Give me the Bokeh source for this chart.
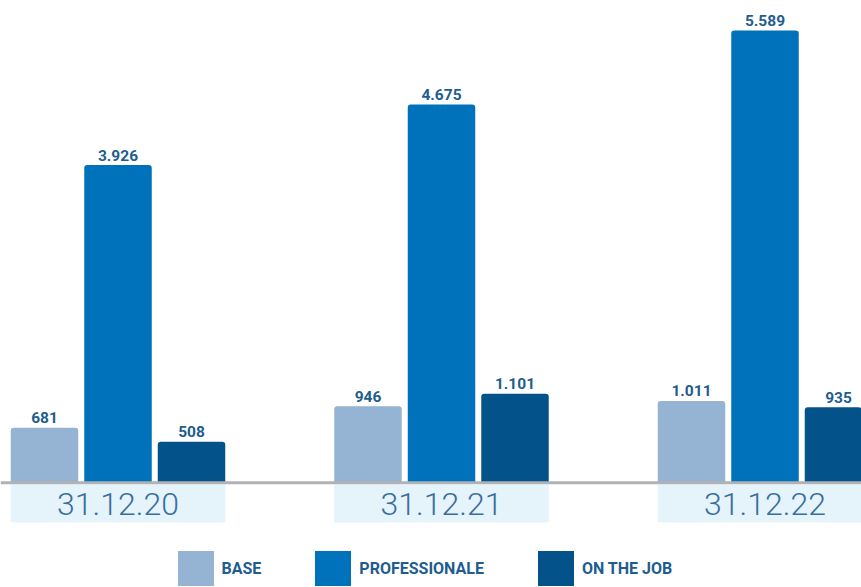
from bokeh.plotting import figure
from bokeh.models import ColumnDataSource, Range1d, Span, Legend, LegendItem
from bokeh.transform import dodge
from bokeh.core.properties import value
from bokeh.embed import file_html
from bokeh.resources import INLINE

# ---- data ----
dates = ["31.12.20", "31.12.21", "31.12.22"]
series = ["BASE", "PROFESSIONALE", "ON THE JOB"]
base = [681, 946, 1011]
professionale = [3926, 4675, 5589]
on_the_job = [508, 1101, 935]

colors = ["#95b3d2", "#0071bb", "#03538a"]
label_color = "#1e5d8e"

def fmt(v):
    return f"{v:,}".replace(",", ".")

W, H = 861, 587
unit_px = 323.5          # px per group
base_px = 482.3          # baseline from top of figure (px)
k = max(professionale) / 452.3   # value units per px
x_start = (0 - 117.5) / unit_px

p = figure(width=W, height=H, output_backend="svg", toolbar_location=None,
           x_range=Range1d(x_start, x_start + W / unit_px),
           y_range=Range1d(-(H - base_px) * k, base_px * k),
           min_border=0, outline_line_color=None)
p.axis.visible = False
p.grid.visible = False
p.background_fill_color = "white"

idx = list(range(len(dates)))
src = ColumnDataSource(dict(
    x=idx, date=dates,
    base=base, prof=professionale, otj=on_the_job,
    base_l=[fmt(v) for v in base],
    prof_l=[fmt(v) for v in professionale],
    otj_l=[fmt(v) for v in on_the_job],
))

bw = 67.5 / unit_px
step = 73.5 / unit_px
box_half = (bw / 2 + step)

# category boxes
p.quad(left=[i - box_half for i in idx], right=[i + box_half for i in idx],
       top=-1.7 * k, bottom=-39.4 * k, fill_color="#e5f3fb", line_color=None)
p.text(x="x", y=-21.5 * k, text="date", source=src, text_align="center",
       text_baseline="middle", text_font=value("Roboto Light"),
       text_font_size="32px", text_color="#3a6f9c")

renderers = []
for off, col, key, c in zip([-step, 0, step], ["base", "prof", "otj"],
                            [series[0], series[1], series[2]], colors):
    r = p.vbar(x=dodge("x", off, range=p.x_range), top=col, bottom=0, width=bw,
               source=src, fill_color=c, line_color=None,
               border_radius=[3, 3, 0, 0])
    renderers.append((key, r))
    p.text(x=dodge("x", off, range=p.x_range), y=col, text=col + "_l",
           source=src, text_align="center", text_baseline="alphabetic",
           y_offset=-10, text_font=value("Roboto"), text_font_style="bold",
           text_font_size="15.5px", text_color=label_color)

p.add_layout(Span(location=0, dimension="width", line_color="#b0b2b5",
                  line_width=3))

legend = Legend(items=[LegendItem(label=n, renderers=[r]) for n, r in renderers],
                orientation="horizontal", location=(172.5, -3.4),
                glyph_width=45, glyph_height=44, label_standoff=4,
                spacing=49, padding=0, margin=0,
                border_line_color=None, background_fill_alpha=0,
                label_text_font="Roboto", label_text_font_style="bold",
                label_text_font_size="16px", label_text_color=label_color)
p.add_layout(legend)

open("out.html", "w").write(file_html(p, INLINE))
